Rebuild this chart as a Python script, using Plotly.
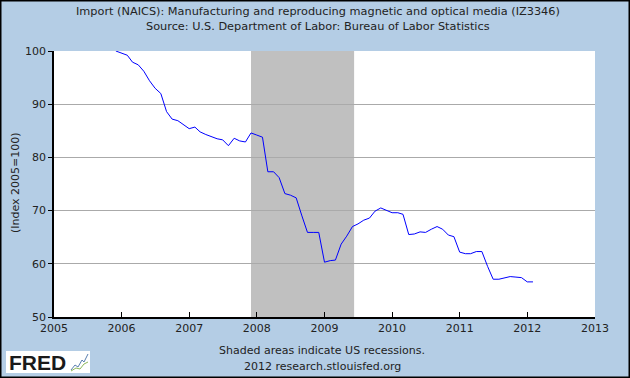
import plotly.graph_objects as go
import pandas as pd

# ---- data ----
start_month = "2005-12-01"
values = [
    100.0,
    99.6, 99.2, 97.9, 97.4, 96.2, 94.4, 93.0, 92.0, 88.6, 87.2, 86.9, 86.1,
    85.4, 85.7, 84.8, 84.3, 83.9, 83.5, 83.3, 82.2, 83.6, 83.1, 82.9, 84.6,
    84.2, 83.8, 77.3, 77.3, 76.2, 73.2, 72.9, 72.4, 69.0, 65.9, 65.9, 65.9,
    60.3, 60.6, 60.7, 63.7, 65.2, 67.0, 67.5, 68.2, 68.6, 69.9, 70.5, 70.0,
    69.6, 69.6, 69.3, 65.5, 65.6, 66.0, 65.9, 66.5, 67.0, 66.5, 65.4, 65.1,
    62.2, 61.9, 61.9, 62.3, 62.3, 59.5, 57.1, 57.1, 57.3, 57.6, 57.5, 57.4,
    56.6, 56.6,
]
dates = pd.date_range(start_month, periods=len(values), freq="MS")

recession_start = "2007-12-01"
recession_end = "2009-06-10"

x_range = ["2005-01-01", "2013-01-01"]
y_range = [50, 100]
y_ticks = [50, 60, 70, 80, 90, 100]
x_ticks = [f"{y}-01-01" for y in range(2005, 2014)]
x_ticklabels = [str(y) for y in range(2005, 2014)]

title1 = "Import (NAICS): Manufacturing and reproducing magnetic and optical media (IZ3346)"
title2 = "Source: U.S. Department of Labor: Bureau of Labor Statistics"
y_title = "(Index 2005=100)"
note1 = "Shaded areas indicate US recessions."
note2 = "2012 research.stlouisfed.org"

BG = "#B4CDE5"
FONT = "DejaVu Sans"
TXT = "#222222"

fig = go.Figure()
fig.add_trace(go.Scatter(x=dates, y=values, mode="lines",
                         line=dict(color="#0000FF", width=1),
                         hoverinfo="skip", showlegend=False))

# recession shading
fig.add_shape(type="rect", xref="x", yref="paper",
              x0=recession_start, x1=recession_end, y0=0, y1=1,
              fillcolor="#C0C0C0", line=dict(width=0), layer="between")

W, H = 630, 378
L, R, T, B = 54, 35, 51, 61
pw, ph = W - L - R, H - T - B


def px(xp):
    return (xp - L) / pw


def py(yp):
    return (H - B - yp) / ph


# outer border
fig.add_shape(type="rect", xref="paper", yref="paper",
              x0=px(0.5), x1=px(W - 0.5), y0=py(0.5), y1=py(H - 0.5),
              line=dict(color="#000000", width=2), fillcolor="rgba(0,0,0,0)")

# FRED logo box
fig.add_shape(type="rect", xref="paper", yref="paper",
              x0=px(6), x1=px(90), y0=py(351), y1=py(373),
              fillcolor="#FFFFFF", line=dict(width=0))
fig.add_annotation(xref="paper", yref="paper", x=px(7), y=py(362),
                   xanchor="left", yanchor="middle", showarrow=False,
                   text="<b>FRED</b>",
                   font=dict(family="Liberation Sans", size=21, color="#1a1a1a"))
# small icon
fig.add_shape(type="path", xref="paper", yref="paper",
              path=f"M {px(71)} {py(370)} L {px(75)} {py(365)} L {px(78)} {py(367)} L {px(82)} {py(360)} L {px(84)} {py(362)} L {px(88)} {py(354)}",
              line=dict(color="#5A7FB0", width=1))
fig.add_shape(type="path", xref="paper", yref="paper",
              path=f"M {px(71)} {py(371)} L {px(76)} {py(368)} L {px(80)} {py(369)} L {px(84)} {py(364)} L {px(88)} {py(362)}",
              line=dict(color="#8DB85A", width=1))

# titles
fig.add_annotation(xref="paper", yref="paper", x=px(318), y=py(12),
                   text=title1, showarrow=False, xanchor="center", yanchor="middle",
                   font=dict(family=FONT, size=11.3, color=TXT))
fig.add_annotation(xref="paper", yref="paper", x=px(318), y=py(26),
                   text=title2, showarrow=False, xanchor="center", yanchor="middle",
                   font=dict(family=FONT, size=11.3, color=TXT))
fig.add_annotation(xref="paper", yref="paper", x=px(15), y=py(183),
                   text=y_title, showarrow=False, textangle=-90,
                   xanchor="center", yanchor="middle",
                   font=dict(family=FONT, size=11, color=TXT))
fig.add_annotation(xref="paper", yref="paper", x=px(322), y=py(350),
                   text=note1, showarrow=False, xanchor="center", yanchor="middle",
                   font=dict(family=FONT, size=11, color=TXT))
fig.add_annotation(xref="paper", yref="paper", x=px(322), y=py(366),
                   text=note2, showarrow=False, xanchor="center", yanchor="middle",
                   font=dict(family=FONT, size=11, color=TXT))

fig.update_layout(
    width=W, height=H,
    margin=dict(l=L, r=R, t=T, b=B, pad=0),
    paper_bgcolor=BG, plot_bgcolor="#FFFFFF",
    font=dict(family=FONT, size=11, color=TXT),
    showlegend=False,
    xaxis=dict(type="date", range=x_range, tickvals=x_ticks, ticktext=x_ticklabels,
               ticks="inside", ticklen=5, tickcolor="#000000", tickwidth=1,
               showgrid=False, showline=True, linecolor="#000000", linewidth=1.5,
               zeroline=False, tickfont=dict(family=FONT, size=11, color=TXT)),
    yaxis=dict(range=y_range, tickvals=y_ticks,
               ticks="outside", ticklen=4, tickcolor="#000000", tickwidth=1,
               showgrid=True, gridcolor="#AAAAAA", gridwidth=1.2,
               showline=True, linecolor="#000000", linewidth=1.5,
               zeroline=False, tickfont=dict(family=FONT, size=11, color=TXT)),
)

fig.write_html("out.html",
               config={"displayModeBar": False},
               post_script="document.body.style.margin='0';document.body.style.overflow='hidden';")
